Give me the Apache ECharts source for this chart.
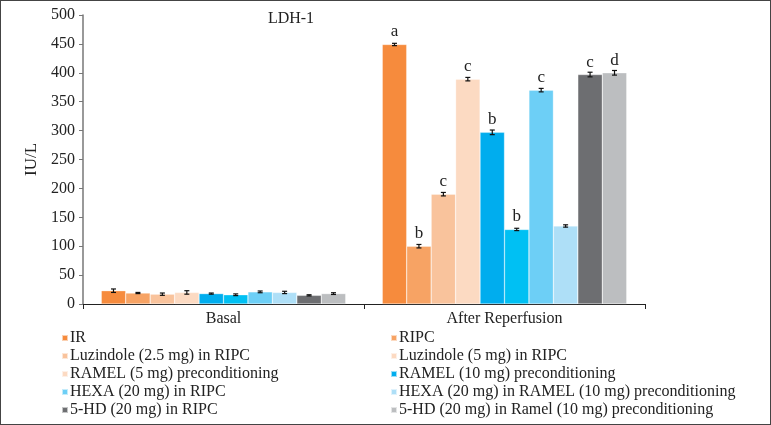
<!DOCTYPE html>
<html><head><meta charset="utf-8">
<script src="https://cdn.jsdelivr.net/npm/echarts@6/dist/echarts.min.js"></script>
<style>html,body{margin:0;padding:0;background:#fff}#c{width:771px;height:425px;box-sizing:border-box;border:1px solid #444}</style>
</head><body><div id="c"></div>
<script>
const categories = ['Basal', 'After Reperfusion'];
const seriesNames = ['IR', 'RIPC', 'Luzindole (2.5 mg) in RIPC', 'Luzindole (5 mg) in RIPC',
  'RAMEL (5 mg) preconditioning', 'RAMEL (10 mg) preconditioning', 'HEXA (20 mg) in RIPC',
  'HEXA (20 mg) in RAMEL (10 mg) preconditioning', '5-HD (20 mg) in RIPC', '5-HD (20 mg) in Ramel (10 mg) preconditioning'];
const basalValues = [23, 19, 17, 20, 18, 16, 21, 20, 15, 18];
const basalErrors = [3, 1, 2, 3, 1, 1.5, 1.5, 2, 1, 1.5];
const reperfValues = [449, 100, 190, 389, 297, 129, 370, 135, 397, 400];
const reperfErrors = [2, 3, 3, 3, 4, 2, 3, 2, 4, 4];
const reperfLetters = ['a', 'b', 'c', 'c', 'b', 'b', 'c', '', 'c', 'd'];
const yTicks = [0, 50, 100, 150, 200, 250, 300, 350, 400, 450, 500];

const barColors = ['#F68B3D', '#F7A364', '#F9C39C', '#FCDAC2', '#00ADEE', '#00C0F3', '#6DCFF6', '#AEDFF7', '#6D6E71', '#BCBEC0'];
const legendColors = ['#F68B3D', '#F7A364', '#F9C39C', '#FCDAC2', '#FCDAC2', '#00ADEE', '#6DCFF6', '#AEDFF7', '#6D6E71', '#BCBEC0'];

const FONT = 'Liberation Serif';
const N = seriesNames.length;
const CAT_GAP = 0.13;

const series = seriesNames.map((name, i) => ({
  name, type: 'bar', barGap: '0%', barCategoryGap: (CAT_GAP * 100) + '%',
  itemStyle: { color: barColors[i], borderColor: 'rgba(255,255,255,0.6)', borderWidth: 0.5 },
  data: [basalValues[i], {
    value: reperfValues[i],
    label: { show: !!reperfLetters[i], position: 'top', distance: 4, formatter: reperfLetters[i],
      fontFamily: FONT, fontSize: 17, color: '#222' }
  }]
}));

const errData = [];
for (let i = 0; i < N; i++) {
  errData.push([0, i, basalValues[i], basalErrors[i]]);
  errData.push([1, i, reperfValues[i], reperfErrors[i]]);
}
series.push({
  type: 'custom', name: 'err', z: 10, silent: true,
  renderItem: function (params, api) {
    const c = api.value(0), idx = api.value(1), v = api.value(2), e = api.value(3);
    const band = api.size([1, 0])[0];
    const bw = band * (1 - CAT_GAP) / N;
    const center = api.coord([c, 0])[0];
    const x = center - band * (1 - CAT_GAP) / 2 + (idx + 0.5) * bw;
    const yHi = api.coord([c, v + e])[1];
    const yLo = api.coord([c, v - e])[1];
    const cap = 2.5;
    const st = { stroke: '#111', lineWidth: 1.2 };
    return { type: 'group', children: [
      { type: 'line', shape: { x1: x, y1: yHi, x2: x, y2: yLo }, style: st },
      { type: 'line', shape: { x1: x - cap, y1: yHi, x2: x + cap, y2: yHi }, style: st },
      { type: 'line', shape: { x1: x - cap, y1: yLo, x2: x + cap, y2: yLo }, style: st }
    ]};
  },
  data: errData
});

function legendFor(idxs, left) {
  return {
    orient: 'vertical', left: left, top: 329, height: 96, itemWidth: 6, itemHeight: 6, itemGap: 2,
    icon: 'rect', selectedMode: false, padding: 0,
    textStyle: { fontFamily: FONT, fontSize: 16, color: '#222', padding: [0, 0, 0, -3] },
    data: idxs.map(i => ({ name: seriesNames[i], itemStyle: { color: legendColors[i] } }))
  };
}

const chart = echarts.init(document.getElementById('c'));
chart.setOption({
  animation: false,
  title: { text: 'LDH-1', left: 285, top: 5, textAlign: 'center',
    textStyle: { fontFamily: FONT, fontSize: 16, fontWeight: 'normal', color: '#222' } },
  grid: { left: 82, right: 125, top: 14, bottom: 120 },
  legend: [legendFor([0, 2, 4, 6, 8], 60), legendFor([1, 3, 5, 7, 9], 389)],
  xAxis: {
    type: 'category', data: categories,
    axisLine: { lineStyle: { color: '#222', width: 1.2 } },
    axisTick: { show: true, length: 5, lineStyle: { color: '#222' } },
    axisLabel: { fontFamily: FONT, fontSize: 16, color: '#222', margin: 7 }
  },
  yAxis: {
    type: 'value', min: 0, max: 500, interval: 50,
    name: 'IU/L', nameLocation: 'middle', nameGap: 40, nameRotate: 90,
    nameTextStyle: { fontFamily: FONT, fontSize: 17, color: '#222' },
    axisLine: { show: true, lineStyle: { color: '#777', width: 1.5 } },
    axisTick: { show: true, length: 4, lineStyle: { color: '#777' } },
    axisLabel: { fontFamily: FONT, fontSize: 16, color: '#222', margin: 8,
      formatter: v => yTicks.includes(v) ? String(v) : '' },
    splitLine: { show: false }
  },
  series
});
</script></body></html>
